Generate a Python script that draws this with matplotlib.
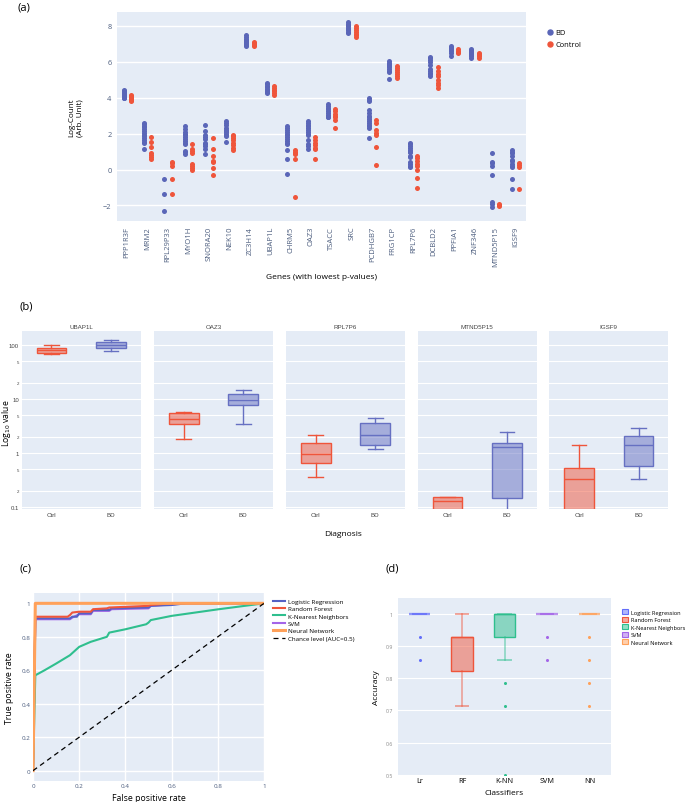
import matplotlib
matplotlib.use('Agg')
import matplotlib.pyplot as plt
from matplotlib.lines import Line2D
from matplotlib.patches import Patch
from matplotlib.colors import to_rgba

plt.rcParams['font.family'] = ['Open Sans', 'DejaVu Sans']

# ---------------- data ----------------
# (a) strip plot of log-counts
genes_a = ['PPP1R3F', 'MRM2', 'RPL29P33', 'MYO1H', 'SNORA20', 'NEK10', 'ZC3H14',
           'UBAP1L', 'CHRM5', 'OAZ3', 'TSACC', 'SRC', 'PCDHGB7', 'FRG1CP', 'RPL7P6',
           'DCBLD2', 'PPFIA1', 'ZNF346', 'MTND5P15', 'IGSF9']
bd_vals = [
    [4.45, 4.4, 4.35, 4.3, 4.28, 4.25, 4.2, 4.18, 4.15, 4.12, 4.1, 4.05, 4.0, 3.98],
    [2.62, 2.55, 2.45, 2.35, 2.25, 2.15, 2.05, 1.95, 1.85, 1.75, 1.65, 1.55, 1.5, 1.17],
    [-0.54, -1.38, -2.29],
    [2.4, 2.25, 2.1, 2.0, 1.9, 1.8, 1.7, 1.6, 1.5, 1.4, 1.04, 0.95, 0.88],
    [2.49, 2.12, 1.95, 1.84, 1.7, 1.5, 1.41, 1.3, 1.17, 0.86],
    [2.72, 2.6, 2.5, 2.3, 2.2, 2.15, 2.1, 2.0, 1.95, 1.88, 1.54],
    [7.5, 7.4, 7.3, 7.2, 7.15, 7.1, 7.05, 7.0, 6.95, 6.9],
    [4.82, 4.75, 4.65, 4.6, 4.5, 4.45, 4.4, 4.35, 4.3, 4.25],
    [2.4, 2.3, 2.2, 2.1, 2.0, 1.9, 1.8, 1.7, 1.6, 1.5, 1.4, 1.1, 0.58, -0.24],
    [2.7, 2.6, 2.5, 2.4, 2.3, 2.2, 2.1, 2.0, 1.95, 1.66, 1.41, 1.3, 1.17],
    [3.67, 3.55, 3.45, 3.35, 3.25, 3.15, 3.05, 2.95, 2.9],
    [8.2, 8.12, 8.05, 7.98, 7.9, 7.82, 7.75, 7.68, 7.6],
    [4.0, 3.9, 3.8, 3.3, 3.15, 3.0, 2.9, 2.8, 2.7, 2.6, 2.5, 2.4, 2.34, 1.77],
    [6.05, 5.95, 5.85, 5.8, 5.75, 5.7, 5.6, 5.5, 5.45, 5.02],
    [1.5, 1.4, 1.3, 1.2, 1.1, 1.0, 0.95, 0.77, 0.7, 0.4, 0.3, 0.2, 0.13],
    [6.28, 6.2, 6.1, 6.0, 5.8, 5.6, 5.5, 5.4, 5.3, 5.2],
    [6.89, 6.8, 6.75, 6.7, 6.65, 6.6, 6.5, 6.33],
    [6.74, 6.68, 6.6, 6.55, 6.5, 6.45, 6.4, 6.3, 6.19],
    [0.9, 0.44, 0.35, 0.22, -0.33, -1.83, -1.95, -2.07],
    [1.1, 1.0, 0.9, 0.75, 0.55, 0.45, 0.3, 0.2, 0.13, -0.55, -1.1],
]
ctrl_vals = [
    [4.15, 4.1, 4.05, 4.0, 3.95, 3.9, 3.85, 3.8],
    [1.84, 1.54, 1.23, 0.91, 0.8, 0.7, 0.61],
    [0.43, 0.34, 0.2, -0.54, -1.38],
    [1.43, 1.17, 1.04, 0.93, 0.32, 0.2, 0.08, -0.05],
    [1.73, 1.13, 0.76, 0.45, 0.43, 0.06, -0.3],
    [1.92, 1.85, 1.75, 1.66, 1.5, 1.36, 1.2, 1.06],
    [7.12, 7.05, 7.0, 6.95, 6.9],
    [4.63, 4.55, 4.45, 4.35, 4.25, 4.18],
    [1.1, 1.0, 0.92, 0.84, 0.58, -1.56],
    [1.79, 1.65, 1.5, 1.35, 1.2, 1.13, 0.6],
    [3.37, 3.25, 3.1, 3.0, 2.9, 2.77, 2.29],
    [7.98, 7.88, 7.78, 7.68, 7.58, 7.48, 7.38],
    [2.77, 2.62, 2.2, 2.05, 1.9, 1.28, 0.26],
    [5.75, 5.65, 5.55, 5.45, 5.35, 5.2, 5.08],
    [0.77, 0.65, 0.45, 0.31, 0.17, -0.05, -0.46, -1.03],
    [5.72, 5.5, 5.35, 5.2, 5.0, 4.85, 4.7, 4.55],
    [6.7, 6.62, 6.55, 6.5],
    [6.52, 6.45, 6.38, 6.3, 6.2],
    [-1.9, -1.97, -2.05],
    [0.35, 0.25, 0.13, -1.1],
]

# (b) box plots: whislo, q1, med, q3, whishi
genes_b = ['UBAP1L', 'OAZ3', 'RPL7P6', 'MTND5P15', 'IGSF9']
ctrl_box = [[69, 72, 80, 88, 99],
            [1.84, 3.4, 4.2, 5.4, 5.8],
            [0.35, 0.645, 0.96, 1.55, 2.18],
            [0.04, 0.05, 0.131, 0.151, 0.151],
            [0.05, 0.07, 0.326, 0.535, 1.39]]
bd_box = [[76, 88, 100, 112, 122],
          [3.44, 7.6, 9.5, 12.2, 14.5],
          [1.17, 1.4, 2.15, 3.55, 4.5],
          [0.04, 0.149, 1.27, 1.51, 2.4],
          [0.326, 0.575, 1.39, 2.04, 2.94]]

# (c) ROC curves
fpr_lr = [0, 0.01, 0.16, 0.17, 0.19, 0.20, 0.25, 0.26, 0.33, 0.34, 0.50, 0.51, 0.60, 0.66, 1.0]
tpr_lr = [0, 0.91, 0.91, 0.92, 0.92, 0.94, 0.94, 0.96, 0.96, 0.97, 0.975, 0.985, 0.99, 1.0, 1.0]
fpr_rf = [0, 0.01, 0.15, 0.16, 0.17, 0.20, 0.25, 0.26, 0.32, 0.33, 0.50, 0.51, 0.60, 1.0]
tpr_rf = [0, 0.92, 0.92, 0.93, 0.945, 0.95, 0.95, 0.965, 0.97, 0.975, 0.985, 0.99, 1.0, 1.0]
fpr_knn = [0, 0.01, 0.05, 0.10, 0.16, 0.18, 0.20, 0.25, 0.32, 0.33, 0.40, 0.49, 0.50, 0.51, 0.60, 0.80, 1.0]
tpr_knn = [0, 0.57, 0.60, 0.64, 0.69, 0.715, 0.74, 0.77, 0.80, 0.825, 0.845, 0.875, 0.885, 0.90, 0.925, 0.964, 1.0]
fpr_svm = [0, 0.01, 0.16, 0.17, 0.20, 0.25, 0.26, 0.33, 0.34, 0.50, 0.51, 0.66, 1.0]
tpr_svm = [0, 0.905, 0.905, 0.915, 0.935, 0.935, 0.955, 0.955, 0.965, 0.97, 0.985, 1.0, 1.0]
fpr_nn = [0, 0.01, 1.0]
tpr_nn = [0, 1.0, 1.0]

# (d) accuracy box plots: whislo, q1, med, q3, whishi, outliers
classifiers = ['Lr', 'RF', 'K-NN', 'SVM', 'NN']
clf_names = ['Logistic Regression', 'Random Forest', 'K-Nearest Neighbors', 'SVM', 'Neural Network']
acc_box = [[1.0, 1.0, 1.0, 1.0, 1.0],
           [0.714, 0.821, 0.929, 0.929, 1.0],
           [0.857, 0.929, 1.0, 1.0, 1.0],
           [1.0, 1.0, 1.0, 1.0, 1.0],
           [1.0, 1.0, 1.0, 1.0, 1.0]]
acc_out = [[0.929, 0.857], [], [0.786, 0.714, 0.5], [0.929, 0.857], [0.929, 0.857, 0.786, 0.714]]

# ---------------- style ----------------
BG = '#E5ECF6'
BD_COL = '#5a66b8'
CT_COL = '#ef553b'
BD_BOX = '#6670c2'
clf_cols = ['#636efa', '#ef553b', '#2fbf8e', '#a465e8', '#ffa15a']
TICK = '#4c5d7e'

W, H = 685, 803
fig = plt.figure(figsize=(W / 100, H / 100), dpi=100)


def box_ax(x0, y0, x1, y1):
    return fig.add_axes([x0 / W, 1 - y1 / H, (x1 - x0) / W, (y1 - y0) / H])


def plain(ax):
    ax.set_facecolor(BG)
    for s in ax.spines.values():
        s.set_visible(False)
    ax.tick_params(length=0)
    ax.set_axisbelow(True)


# ---------------- (a) ----------------
ax = box_ax(117, 13, 526, 222)
plain(ax)
for i in range(len(genes_a)):
    ax.scatter([i - 0.18] * len(bd_vals[i]), bd_vals[i], s=13, color=BD_COL, lw=0, zorder=3)
    ax.scatter([i + 0.18] * len(ctrl_vals[i]), ctrl_vals[i], s=13, color=CT_COL, lw=0, zorder=3)
ax.set_xlim(-0.5, len(genes_a) - 0.5)
ax.set_ylim(-2.87, 8.78)
ax.set_yticks([-2, 0, 2, 4, 6, 8])
ax.set_yticklabels(['\u22122', '0', '2', '4', '6', '8'], fontsize=5.3, color=TICK)
ax.set_xticks(range(len(genes_a)))
ax.set_xticklabels(genes_a, rotation=90, fontsize=5.5, color=TICK, va='top')
ax.tick_params(axis='x', pad=3.5)
ax.tick_params(axis='y', pad=4)
ax.grid(axis='y', color='white', lw=1)
ax.set_xlabel('Genes (with lowest p-values)', fontsize=6, labelpad=5)
fig.text(76 / W, 1 - 118 / H, 'Log-Count\n(Arb. Unit)', rotation=90, ha='center', va='center',
         fontsize=5.8, linespacing=1.1)
fig.legend(handles=[Line2D([], [], ls='', marker='o', ms=3.6, color=BD_COL, label='BD'),
                    Line2D([], [], ls='', marker='o', ms=3.6, color=CT_COL, label='Control')],
           loc='upper left', bbox_to_anchor=(544 / W, 1 - 27 / H), frameon=False, fontsize=5.4,
           handlelength=0.8, handletextpad=0.3, labelspacing=0.65, borderaxespad=0)
fig.text(18 / W, 1 - 8 / H, '(a)', fontsize=8, va='center')

# ---------------- (b) ----------------
starts = [21.7, 154, 286, 417.7, 549.3]
b_ticks = [0.1, 0.2, 0.5, 1, 2, 5, 10, 20, 50, 100]
b_labels = ['0.1', '2', '5', '1', '2', '5', '10', '2', '5', '100']
for k, g in enumerate(genes_b):
    ax = box_ax(starts[k], 332, starts[k] + 119, 510)
    plain(ax)
    ax.set_yscale('log')
    for pos, vals, col in [(0, ctrl_box[k], CT_COL), (1, bd_box[k], BD_BOX)]:
        st = [dict(whislo=vals[0], q1=vals[1], med=vals[2], q3=vals[3], whishi=vals[4], fliers=[])]
        ax.bxp(st, positions=[pos], widths=0.5, patch_artist=True, showfliers=False,
               boxprops=dict(facecolor=to_rgba(col, 0.5), edgecolor=col, lw=1),
               medianprops=dict(color=col, lw=1), whiskerprops=dict(color=col, lw=1),
               capprops=dict(color=col, lw=1), capwidths=0.25)
    ax.set_xlim(-0.5, 1.5)
    ax.set_ylim(10 ** -1.04, 10 ** 2.26)
    ax.set_yticks(b_ticks)
    ax.minorticks_off()
    ax.grid(axis='y', color='white', lw=0.8)
    ax.set_xticks([0, 1])
    ax.set_xticklabels(['Ctrl', 'BD'], fontsize=4.5, color='#444444', family=['Liberation Sans'])
    ax.tick_params(axis='x', pad=2.5)
    if k == 0:
        ax.set_yticklabels(b_labels, color='#444444', family=['Liberation Sans'])
        for t, v in zip(ax.get_yticklabels(), b_ticks):
            t.set_fontsize(4.3 if v in (0.1, 1, 10, 100) else 3.2)
        ax.tick_params(axis='y', pad=2)
    else:
        ax.set_yticklabels([])
    ax.set_title(g, fontsize=4.5, pad=2.5, color='#444444', family=['Liberation Sans'])
fig.text(7 / W, 1 - 423 / H, r'Log$_{10}$ value', rotation=90, ha='center', va='center', fontsize=6.2)
fig.text(343 / W, 1 - 534 / H, 'Diagnosis', ha='center', va='center', fontsize=6)
fig.text(19 / W, 1 - 307 / H, '(b)', fontsize=8, va='center')

# ---------------- (c) ----------------
ax = box_ax(33, 594.3, 264, 781.7)
plain(ax)
ax.plot(fpr_svm, tpr_svm, color=clf_cols[3], lw=1.5, label='SVM', zorder=2)
ax.plot(fpr_lr, tpr_lr, color='#5561c4', lw=1.5, label='Logistic Regression', zorder=3)
ax.plot(fpr_rf, tpr_rf, color=clf_cols[1], lw=1.5, label='Random Forest', zorder=3)
ax.plot(fpr_knn, tpr_knn, color=clf_cols[2], lw=1.5, label='K-Nearest Neighbors', zorder=3)
ax.plot(fpr_nn, tpr_nn, color=clf_cols[4], lw=2.2, label='Neural Network', zorder=4)
ax.plot([0, 1], [0, 1], color='black', lw=0.9, ls=(0, (4, 3)), label='Chance level (AUC=0.5)', zorder=5)
ax.set_xlim(0, 1)
ax.set_ylim(-0.06, 1.06)
ticks_c = [0, 0.2, 0.4, 0.6, 0.8, 1]
ax.set_xticks(ticks_c)
ax.set_yticks(ticks_c)
ax.set_xticklabels(['0', '0.2', '0.4', '0.6', '0.8', '1'], fontsize=4.5, color=TICK)
ax.set_yticklabels(['0', '0.2', '0.4', '0.6', '0.8', '1'], fontsize=4.5, color=TICK)
ax.tick_params(pad=2)
ax.grid(color='white', lw=1)
ax.set_xlabel('False positive rate', fontsize=6.3, labelpad=3)
ax.set_ylabel('True positive rate', fontsize=6.3, labelpad=5)
h, l = ax.get_legend_handles_labels()
order = [1, 2, 3, 0, 4, 5]
fig.legend([h[i] for i in order], [l[i] for i in order], loc='upper left',
           bbox_to_anchor=(270 / W, 1 - 597 / H), frameon=False, fontsize=4.5,
           handlelength=2.0, handletextpad=0.5, labelspacing=0.32, borderaxespad=0)
fig.text(19 / W, 1 - 569 / H, '(c)', fontsize=8, va='center')

# ---------------- (d) ----------------
ax = box_ax(398.3, 598.7, 610.7, 775.7)
plain(ax)
for i, vals in enumerate(acc_box):
    col = clf_cols[i]
    flat = vals[1] == vals[3]
    st = [dict(whislo=vals[0], q1=vals[1], med=vals[2], q3=vals[3], whishi=vals[4], fliers=acc_out[i])]
    ax.bxp(st, positions=[i], widths=0.5, patch_artist=True, showfliers=True,
           boxprops=dict(facecolor=to_rgba(col, 0.5), edgecolor=to_rgba(col, 0.45 if flat else 1.0),
                         lw=1.6 if flat else 1),
           medianprops=dict(color=to_rgba(col, 0.45 if flat else 1.0), lw=1.6 if flat else 1),
           whiskerprops=dict(color=to_rgba(col, 0.5), lw=1.2),
           capprops=dict(color=to_rgba(col, 0.5), lw=1.4), capwidths=0.3,
           flierprops=dict(marker='o', ms=2.2, mfc=col, mec='none', ls=''))
ax.set_xlim(-0.5, 4.5)
ax.set_ylim(0.5, 1.05)
ax.set_yticks([0.5, 0.6, 0.7, 0.8, 0.9, 1.0])
ax.set_yticklabels(['0.5', '0.6', '0.7', '0.8', '0.9', '1'], fontsize=3.8, color='#888888')
ax.set_xticks(range(len(classifiers)))
ax.set_xticklabels(classifiers, fontsize=5.2)
ax.tick_params(axis='x', pad=2)
ax.tick_params(axis='y', pad=4)
ax.grid(axis='y', color='white', lw=0.8)
ax.set_xlabel('Classifiers', fontsize=6, labelpad=3)
ax.set_ylabel('Accuracy', fontsize=6, labelpad=4)
fig.legend(handles=[Patch(facecolor=to_rgba(c, 0.5), edgecolor=c, lw=0.8, label=n)
                    for c, n in zip(clf_cols, clf_names)],
           loc='upper left', bbox_to_anchor=(620 / W, 1 - 608 / H), frameon=False, fontsize=4.1,
           handlelength=1.0, handleheight=1.0, handletextpad=0.5, labelspacing=0.35, borderaxespad=0)
fig.text(386 / W, 1 - 569 / H, '(d)', fontsize=8, va='center')

fig.savefig('out.png', dpi=100, facecolor='white')
